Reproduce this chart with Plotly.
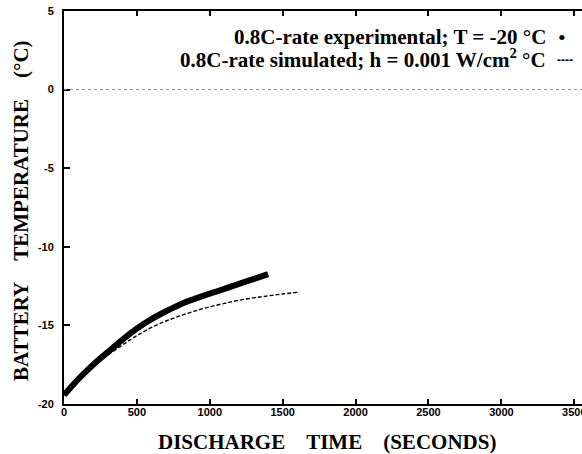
import plotly.graph_objects as go

# ---- data ----
time_exp = [0, 100, 200, 300, 400, 500, 600, 700, 800, 900, 1000, 1100, 1200, 1300, 1400]
temp_exp = [-19.43, -18.4, -17.5, -16.7, -15.92, -15.2, -14.6, -14.1, -13.65, -13.3,
            -12.98, -12.68, -12.36, -12.05, -11.74]

time_sim = [0, 100, 200, 300, 400, 500, 600, 700, 800, 900, 1000, 1100, 1200, 1300,
            1400, 1500, 1600]
temp_sim = [-19.43, -18.42, -17.6, -16.9, -16.25, -15.65, -15.13, -14.72, -14.38, -14.08,
            -13.82, -13.6, -13.4, -13.25, -13.12, -13.0, -12.9]

x_ticks = [0, 500, 1000, 1500, 2000, 2500, 3000, 3500]
y_ticks = [-20, -15, -10, -5, 0, 5]

legend_exp = "0.8C-rate experimental; T = -20 °C"
legend_sim = "0.8C-rate simulated; h = 0.001 W/cm<sup>2</sup> °C"
x_title = "DISCHARGE\u00a0\u00a0\u00a0\u00a0TIME\u00a0\u00a0\u00a0\u00a0(SECONDS)"
y_title = "BATTERY\u00a0\u00a0\u00a0\u00a0TEMPERATURE\u00a0\u00a0\u00a0\u00a0(°C)"

SERIF = "Liberation Serif, Times New Roman, serif"
SANS = "Liberation Sans, Arial, sans-serif"

fig = go.Figure()

fig.add_trace(go.Scatter(
    x=time_sim, y=temp_sim, mode="lines", line_shape="spline",
    line=dict(color="black", width=1.4, dash="4px,2px"), showlegend=False))

fig.add_trace(go.Scatter(
    x=time_exp, y=temp_exp, mode="lines", line_shape="spline",
    line=dict(color="black", width=6), showlegend=False))

# zero reference line
fig.add_hline(y=0, line=dict(color="#888888", width=1, dash="dot"))

L, T, W, H = 64, 11, 582, 454
B = 50
pw, ph = W - L, H - T - B

def px(xp):
    return (xp - L) / pw

def py(yp):
    return (H - B - yp) / ph

annos = [
    dict(text=legend_exp, x=px(548), y=py(37), xanchor="right", yanchor="middle",
         font=dict(family=SERIF, size=21, color="black", weight="bold")),
    dict(text=legend_sim, x=px(548), y=py(59), xanchor="right", yanchor="middle",
         font=dict(family=SERIF, size=21, color="black", weight="bold")),
    dict(text="•", x=px(562), y=py(37.5), xanchor="center", yanchor="middle",
         font=dict(family=SERIF, size=22, color="black")),
    dict(text="----", x=px(564.5), y=py(60), xanchor="center", yanchor="middle",
         font=dict(family=SANS, size=12, color="black", weight="bold")),
    dict(text=x_title, x=px(327), y=py(442), xanchor="center", yanchor="middle",
         font=dict(family=SERIF, size=21, color="black", weight="bold")),
    dict(text=y_title, x=px(21), y=py(211), xanchor="center", yanchor="middle",
         textangle=-90,
         font=dict(family=SERIF, size=21, color="black", weight="bold")),
]
for a in annos:
    a.update(xref="paper", yref="paper", showarrow=False)

fig.update_layout(
    width=W, height=H,
    margin=dict(l=L, r=0, t=T, b=B, pad=0),
    paper_bgcolor="white", plot_bgcolor="white",
    showlegend=False,
    annotations=annos,
    xaxis=dict(range=[0, 3553], tickvals=x_ticks, ticktext=[str(v) for v in x_ticks],
               ticks="inside", ticklen=5, tickwidth=1.5, tickcolor="black",
               showline=True, linecolor="black", linewidth=2, mirror="ticks",
               showgrid=False, zeroline=False, automargin=False,
               ticklabeloverflow="allow", ticklabelstandoff=-3,
               tickfont=dict(family=SANS, size=11, color="black", weight="bold")),
    yaxis=dict(range=[-20, 5], tickvals=y_ticks, ticktext=[str(v) for v in y_ticks],
               ticks="inside", ticklen=6, tickwidth=1.5, tickcolor="black",
               showline=True, linecolor="black", linewidth=2, mirror=False,
               showgrid=False, zeroline=False, automargin=False,
               ticklabelstandoff=6,
               tickfont=dict(family=SANS, size=11, color="black", weight="bold")),
)

fig.write_html("out.html")
